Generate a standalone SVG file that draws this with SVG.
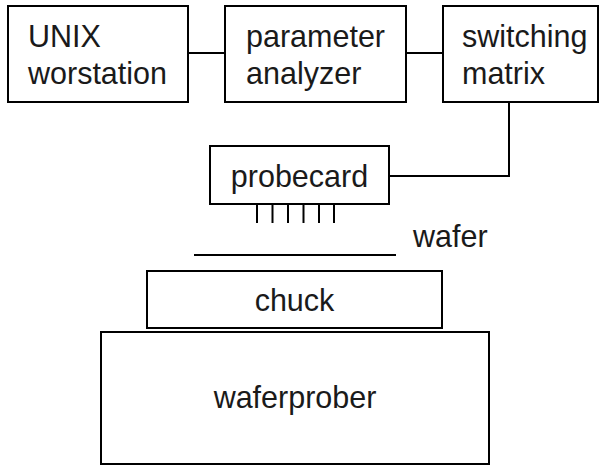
<svg xmlns="http://www.w3.org/2000/svg" width="600" height="466" viewBox="0 0 600 466">
<style>
.box{fill:#fff;stroke:#000;stroke-width:2}
.ln{fill:none;stroke:#000;stroke-width:2}
text{font-family:"Liberation Sans",Arial,sans-serif;font-size:30.5px;fill:#1a1a1a}
.c{text-anchor:middle}
</style>
<rect width="600" height="466" fill="#fff"/>
<g id="connectors">
<line class="ln" x1="188" y1="53" x2="225" y2="53"/>
<line class="ln" x1="406" y1="53" x2="443" y2="53"/>
<polyline class="ln" points="509,102 509,176 389,176"/>
<g id="pins">
<line class="ln" x1="257" y1="204" x2="257" y2="223"/>
<line class="ln" x1="272.5" y1="204" x2="272.5" y2="223"/>
<line class="ln" x1="288" y1="204" x2="288" y2="223"/>
<line class="ln" x1="303.5" y1="204" x2="303.5" y2="223"/>
<line class="ln" x1="319" y1="204" x2="319" y2="223"/>
<line class="ln" x1="334" y1="204" x2="334" y2="223"/>
</g>
</g>
<g id="unix">
<rect class="box" x="8" y="6" width="180" height="96"/>
<text x="28" y="47">UNIX</text>
<text x="28" y="84">worstation</text>
</g>
<g id="parameter">
<rect class="box" x="225" y="6" width="181" height="96"/>
<text x="246" y="47">parameter</text>
<text x="246" y="84">analyzer</text>
</g>
<g id="switching">
<rect class="box" x="443" y="6" width="155" height="96"/>
<text x="462" y="47">switching</text>
<text x="462" y="84">matrix</text>
</g>
<g id="probecard">
<rect class="box" x="210" y="146" width="179" height="58"/>
<text class="c" x="299.5" y="187">probecard</text>
</g>
<g id="wafer">
<line class="ln" x1="194" y1="255" x2="396" y2="255"/>
<text x="413" y="247">wafer</text>
</g>
<g id="chuck">
<rect class="box" x="147" y="271" width="295" height="57"/>
<text class="c" x="294.5" y="311">chuck</text>
</g>
<g id="waferprober">
<rect class="box" x="101" y="332" width="388" height="132"/>
<text class="c" x="295" y="408">waferprober</text>
</g>
</svg>
